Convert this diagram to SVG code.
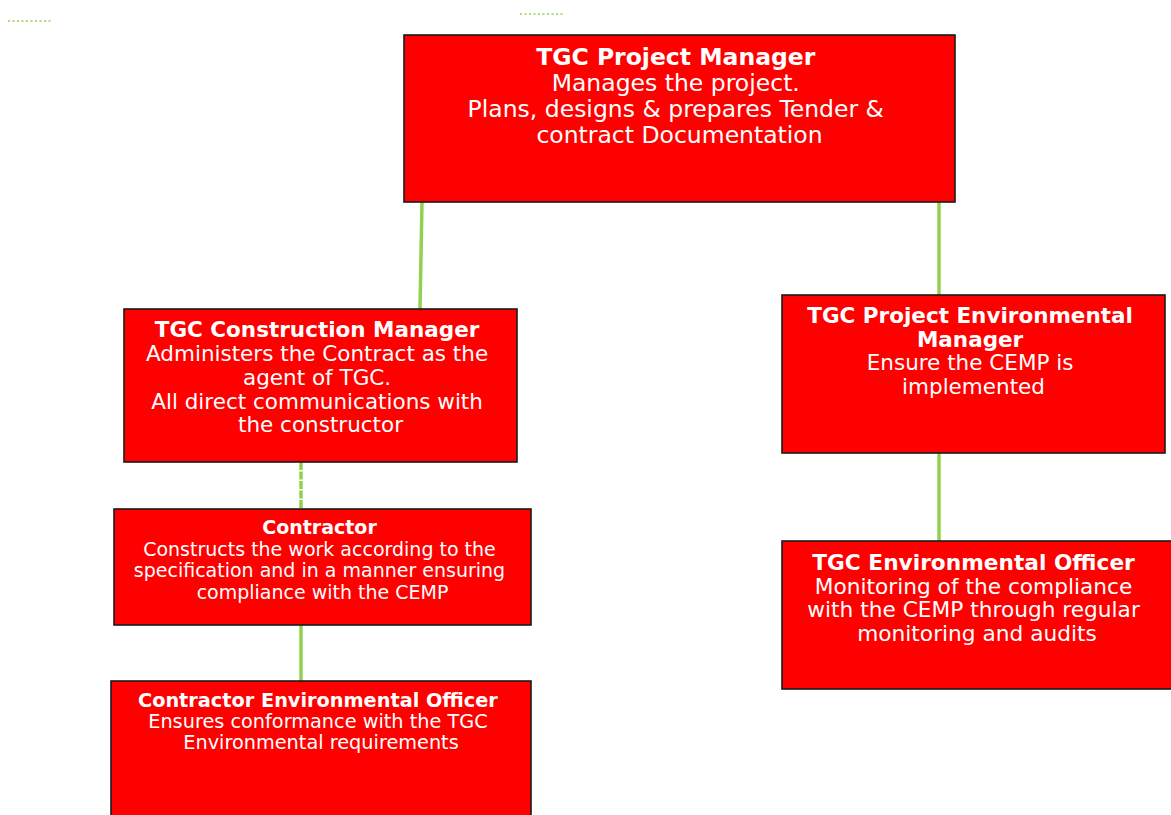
<svg xmlns="http://www.w3.org/2000/svg" width="1171" height="815" viewBox="0 0 1171 815">
<style>
.box{fill:#FF0000;stroke:#1a1a1a;stroke-width:1.6}
.t{font-family:"DejaVu Sans",Verdana,sans-serif;fill:#FFFFFF;text-anchor:middle}
.b{font-weight:bold}
.c{stroke:#92D050;stroke-width:3.5;fill:none}
.dots{stroke:#92D050;stroke-width:1.5;stroke-dasharray:2 2.5;fill:none}
</style>
<rect width="1171" height="815" fill="#FFFFFF"/>
<g id="decor">
<line class="dots" x1="8" y1="21" x2="53" y2="21"/>
<line class="dots" x1="520" y1="14" x2="565" y2="14"/>
</g>
<g id="connectors">
<line class="c" x1="422" y1="202" x2="420" y2="309"/>
<line class="c" x1="939" y1="202" x2="939" y2="295"/>
<line class="c" x1="301" y1="462" x2="301" y2="509" stroke-dasharray="8 1.5"/>
<line class="c" x1="301" y1="625" x2="301" y2="681"/>
<line class="c" x1="939" y1="453" x2="939" y2="541"/>
</g>
<g id="project-manager">
<rect class="box" x="404" y="35" width="551" height="167"/>
<text class="t" font-size="23.5" x="679.5">
<tspan class="b" x="679.5" y="65">TGC Project Manager</tspan>
<tspan x="679.5" y="91">Manages the project.</tspan>
<tspan x="679.5" y="117">Plans, designs &amp; prepares Tender &amp;</tspan>
<tspan x="679.5" y="143">contract Documentation</tspan>
</text>
</g>
<g id="construction-manager">
<rect class="box" x="124" y="309" width="393" height="153"/>
<text class="t" font-size="21.5">
<tspan class="b" x="320.5" y="337">TGC Construction Manager</tspan>
<tspan x="320.5" y="361">Administers the Contract as the</tspan>
<tspan x="320.5" y="385">agent of TGC.</tspan>
<tspan x="320.5" y="409">All direct communications with</tspan>
<tspan x="320.5" y="432">the constructor</tspan>
</text>
</g>
<g id="project-environmental-manager">
<rect class="box" x="782" y="295" width="383" height="158"/>
<text class="t" font-size="21.5">
<tspan class="b" x="973.5" y="323">TGC Project Environmental</tspan>
<tspan class="b" x="973.5" y="347">Manager</tspan>
<tspan x="973.5" y="370">Ensure the CEMP is</tspan>
<tspan x="973.5" y="394">implemented</tspan>
</text>
</g>
<g id="contractor">
<rect class="box" x="114" y="509" width="417" height="116"/>
<text class="t" font-size="19">
<tspan class="b" x="322.5" y="534">Contractor</tspan>
<tspan x="322.5" y="556">Constructs the work according to the</tspan>
<tspan x="322.5" y="577">specification and in a manner ensuring</tspan>
<tspan x="322.5" y="599">compliance with the CEMP</tspan>
</text>
</g>
<g id="contractor-environmental-officer">
<rect class="box" x="111" y="681" width="420" height="140"/>
<text class="t" font-size="19.3">
<tspan class="b" x="321" y="707">Contractor Environmental Officer</tspan>
<tspan x="321" y="728">Ensures conformance with the TGC</tspan>
<tspan x="321" y="749">Environmental requirements</tspan>
</text>
</g>
<g id="environmental-officer">
<rect class="box" x="782" y="541" width="392" height="148"/>
<text class="t" font-size="21.7">
<tspan class="b" x="977" y="570">TGC Environmental Officer</tspan>
<tspan x="977" y="594">Monitoring of the compliance</tspan>
<tspan x="977" y="617">with the CEMP through regular</tspan>
<tspan x="977" y="641">monitoring and audits</tspan>
</text>
</g>
</svg>
